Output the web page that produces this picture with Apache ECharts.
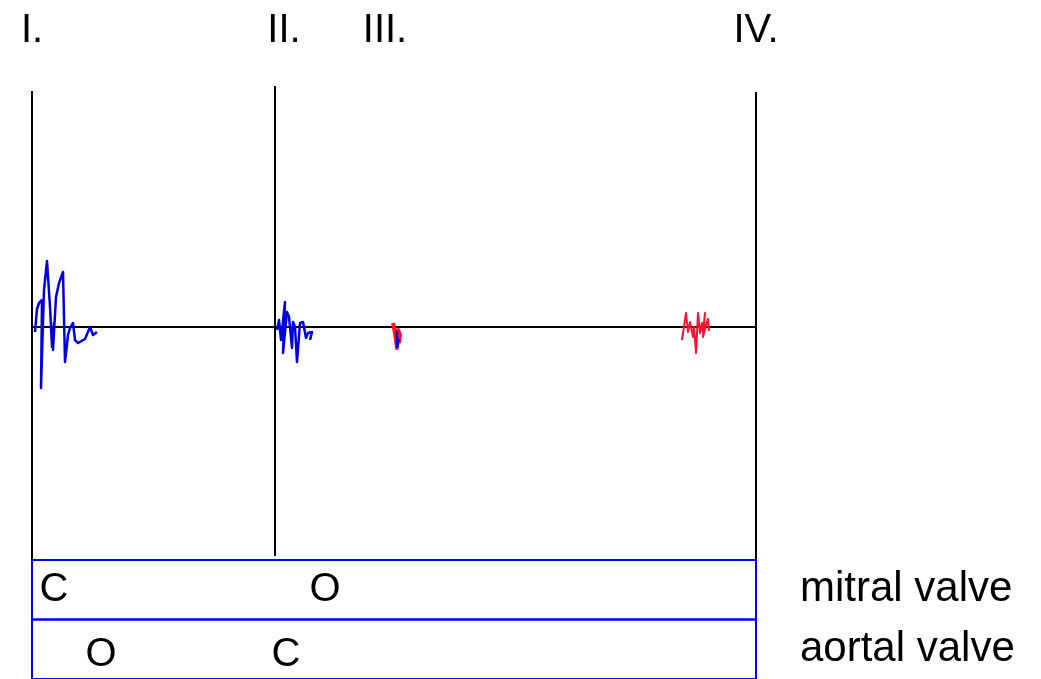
<!DOCTYPE html>
<html>
<head>
<meta charset="utf-8">
<script src="https://cdn.jsdelivr.net/npm/echarts@6/dist/echarts.min.js"></script>
<style>
  html, body { margin: 0; padding: 0; background: #fff; }
  #main { width: 1041px; height: 679px; }
</style>
</head>
<body>
<div id="main"></div>
<script>
// time in ms from the first heart sound, amplitude in arbitrary units
var soundNames = ['I.', 'II.', 'III.', 'IV.'];
var soundLabelTimes = [0, 252, 353, 724];

// vertical marker lines: time, top, bottom
var markerTimes = [0, 243, 724];
var markerTops = [236, 241, 235];
var markerBottoms = [-233, -229, -233];

var waveI = [[3,-5],[5,18],[7,24],[10,27],[9,-61],[12,37],[15,66],[18,20],[20,-20],[22,4],[21,-23],[24,30],[27,44],[31,55],[33,-35],[36,-8],[38,-1],[41,4],[43,-13],[46,-16],[53,-12],[58,0],[61,-8],[65,-5]];
var waveII = [[245,-3],[247,7],[249,-13],[253,25],[251,-26],[255,15],[257,10],[260,-21],[261,5],[263,0],[265,-35],[268,4],[271,5],[274,-11],[276,-6],[280,-5],[278,-13]];
var waveIIIred = [[361,4],[363,-6],[365,-21],[366,-3],[368,-8],[367,-16]];
var waveIIIblue = [[365,-4],[365,-20],[367,-12]];
var waveIV = [[650,-13],[654,14],[656,-5],[658,5],[661,-10],[662,0],[664,-26],[666,14],[668,-6],[670,4],[671,-5],[673,14],[671,-10],[674,2],[676,8],[677,-4]];

var valves = ['mitral valve', 'aortal valve'];
var mitralTimes = [22, 293];
var mitralStates = ['C', 'O'];
var aortalTimes = [69, 254];
var aortalStates = ['O', 'C'];

var chartDom = document.getElementById('main');
var myChart = echarts.init(chartDom);

var series = [];

markerTimes.forEach(function (t, i) {
    series.push({
        type: 'line',
        xAxisIndex: 0, yAxisIndex: 0,
        data: [[t, markerTops[i]], [t, markerBottoms[i]]],
        symbol: 'none',
        lineStyle: {color: '#000', width: 2}
    });
});

series.push({
    type: 'line',
    xAxisIndex: 0, yAxisIndex: 0,
    data: [[0, 0], [724, 0]],
    symbol: 'none',
    lineStyle: {color: '#000', width: 2}
});

function wave(data, color, width) {
    return {
        type: 'line',
        xAxisIndex: 0, yAxisIndex: 0,
        data: data,
        symbol: 'none',
        lineStyle: {color: color, width: width, join: 'round'}
    };
}
series.push(wave(waveI, '#0000e0', 2.5));
series.push(wave(waveII, '#0000e0', 2.5));
series.push(wave(waveIIIred, '#ff1030', 4));
series.push(wave(waveIIIblue, '#0000e0', 2.5));
series.push(wave(waveIV, '#ff1030', 2));

series.push({
    type: 'scatter',
    xAxisIndex: 0, yAxisIndex: 0,
    symbolSize: 0,
    itemStyle: {opacity: 1},
    data: soundNames.map(function (n, i) { return [soundLabelTimes[i], 296, n]; }),
    label: {
        show: true, position: 'inside',
        formatter: function (p) { return p.value[2]; },
        fontSize: 40, color: '#000', fontFamily: 'Liberation Sans'
    }
});

// valve boxes
series.push({
    type: 'custom',
    xAxisIndex: 1, yAxisIndex: 1,
    encode: {x: [0, 1], y: 2},
    data: valves.map(function (v, i) { return [0, 724, i]; }),
    renderItem: function (params, api) {
        var p0 = api.coord([api.value(0), api.value(2)]);
        var p1 = api.coord([api.value(1), api.value(2)]);
        var h = api.size([0, 1])[1];
        return {
            type: 'rect',
            shape: {x: p0[0], y: p0[1] - h / 2, width: p1[0] - p0[0], height: h},
            style: {fill: 'none', stroke: '#0000ff', lineWidth: 2}
        };
    }
});

function valveLabels(times, states, row, dy) {
    return {
        type: 'scatter',
        xAxisIndex: 1, yAxisIndex: 1,
        symbolSize: 0,
        itemStyle: {opacity: 1},
        data: times.map(function (t, i) { return [t, row, states[i]]; }),
        label: {
            show: true, position: 'inside', offset: [0, dy],
            formatter: function (p) { return p.value[2]; },
            fontSize: 40, color: '#000', fontFamily: 'Liberation Sans'
        }
    };
}
series.push(valveLabels(mitralTimes, mitralStates, 0, 0));
series.push(valveLabels(aortalTimes, aortalStates, 1, 6));

var option = {
    animation: false,
    grid: [
        {left: 32, width: 724, top: 0, bottom: 111},
        {left: 32, width: 724, top: 560, height: 120}
    ],
    xAxis: [
        {gridIndex: 0, type: 'value', min: 0, max: 724, show: false},
        {gridIndex: 1, type: 'value', min: 0, max: 724, show: false}
    ],
    yAxis: [
        {gridIndex: 0, type: 'value', min: -241, max: 327, show: false},
        {
            gridIndex: 1, type: 'category', data: valves, inverse: true,
            position: 'right',
            axisLine: {show: false}, axisTick: {show: false}, splitLine: {show: false},
            axisLabel: {margin: 44, fontSize: 42, color: '#000', fontFamily: 'Liberation Sans'}
        }
    ],
    series: series
};

option && myChart.setOption(option);
</script>
</body>
</html>
